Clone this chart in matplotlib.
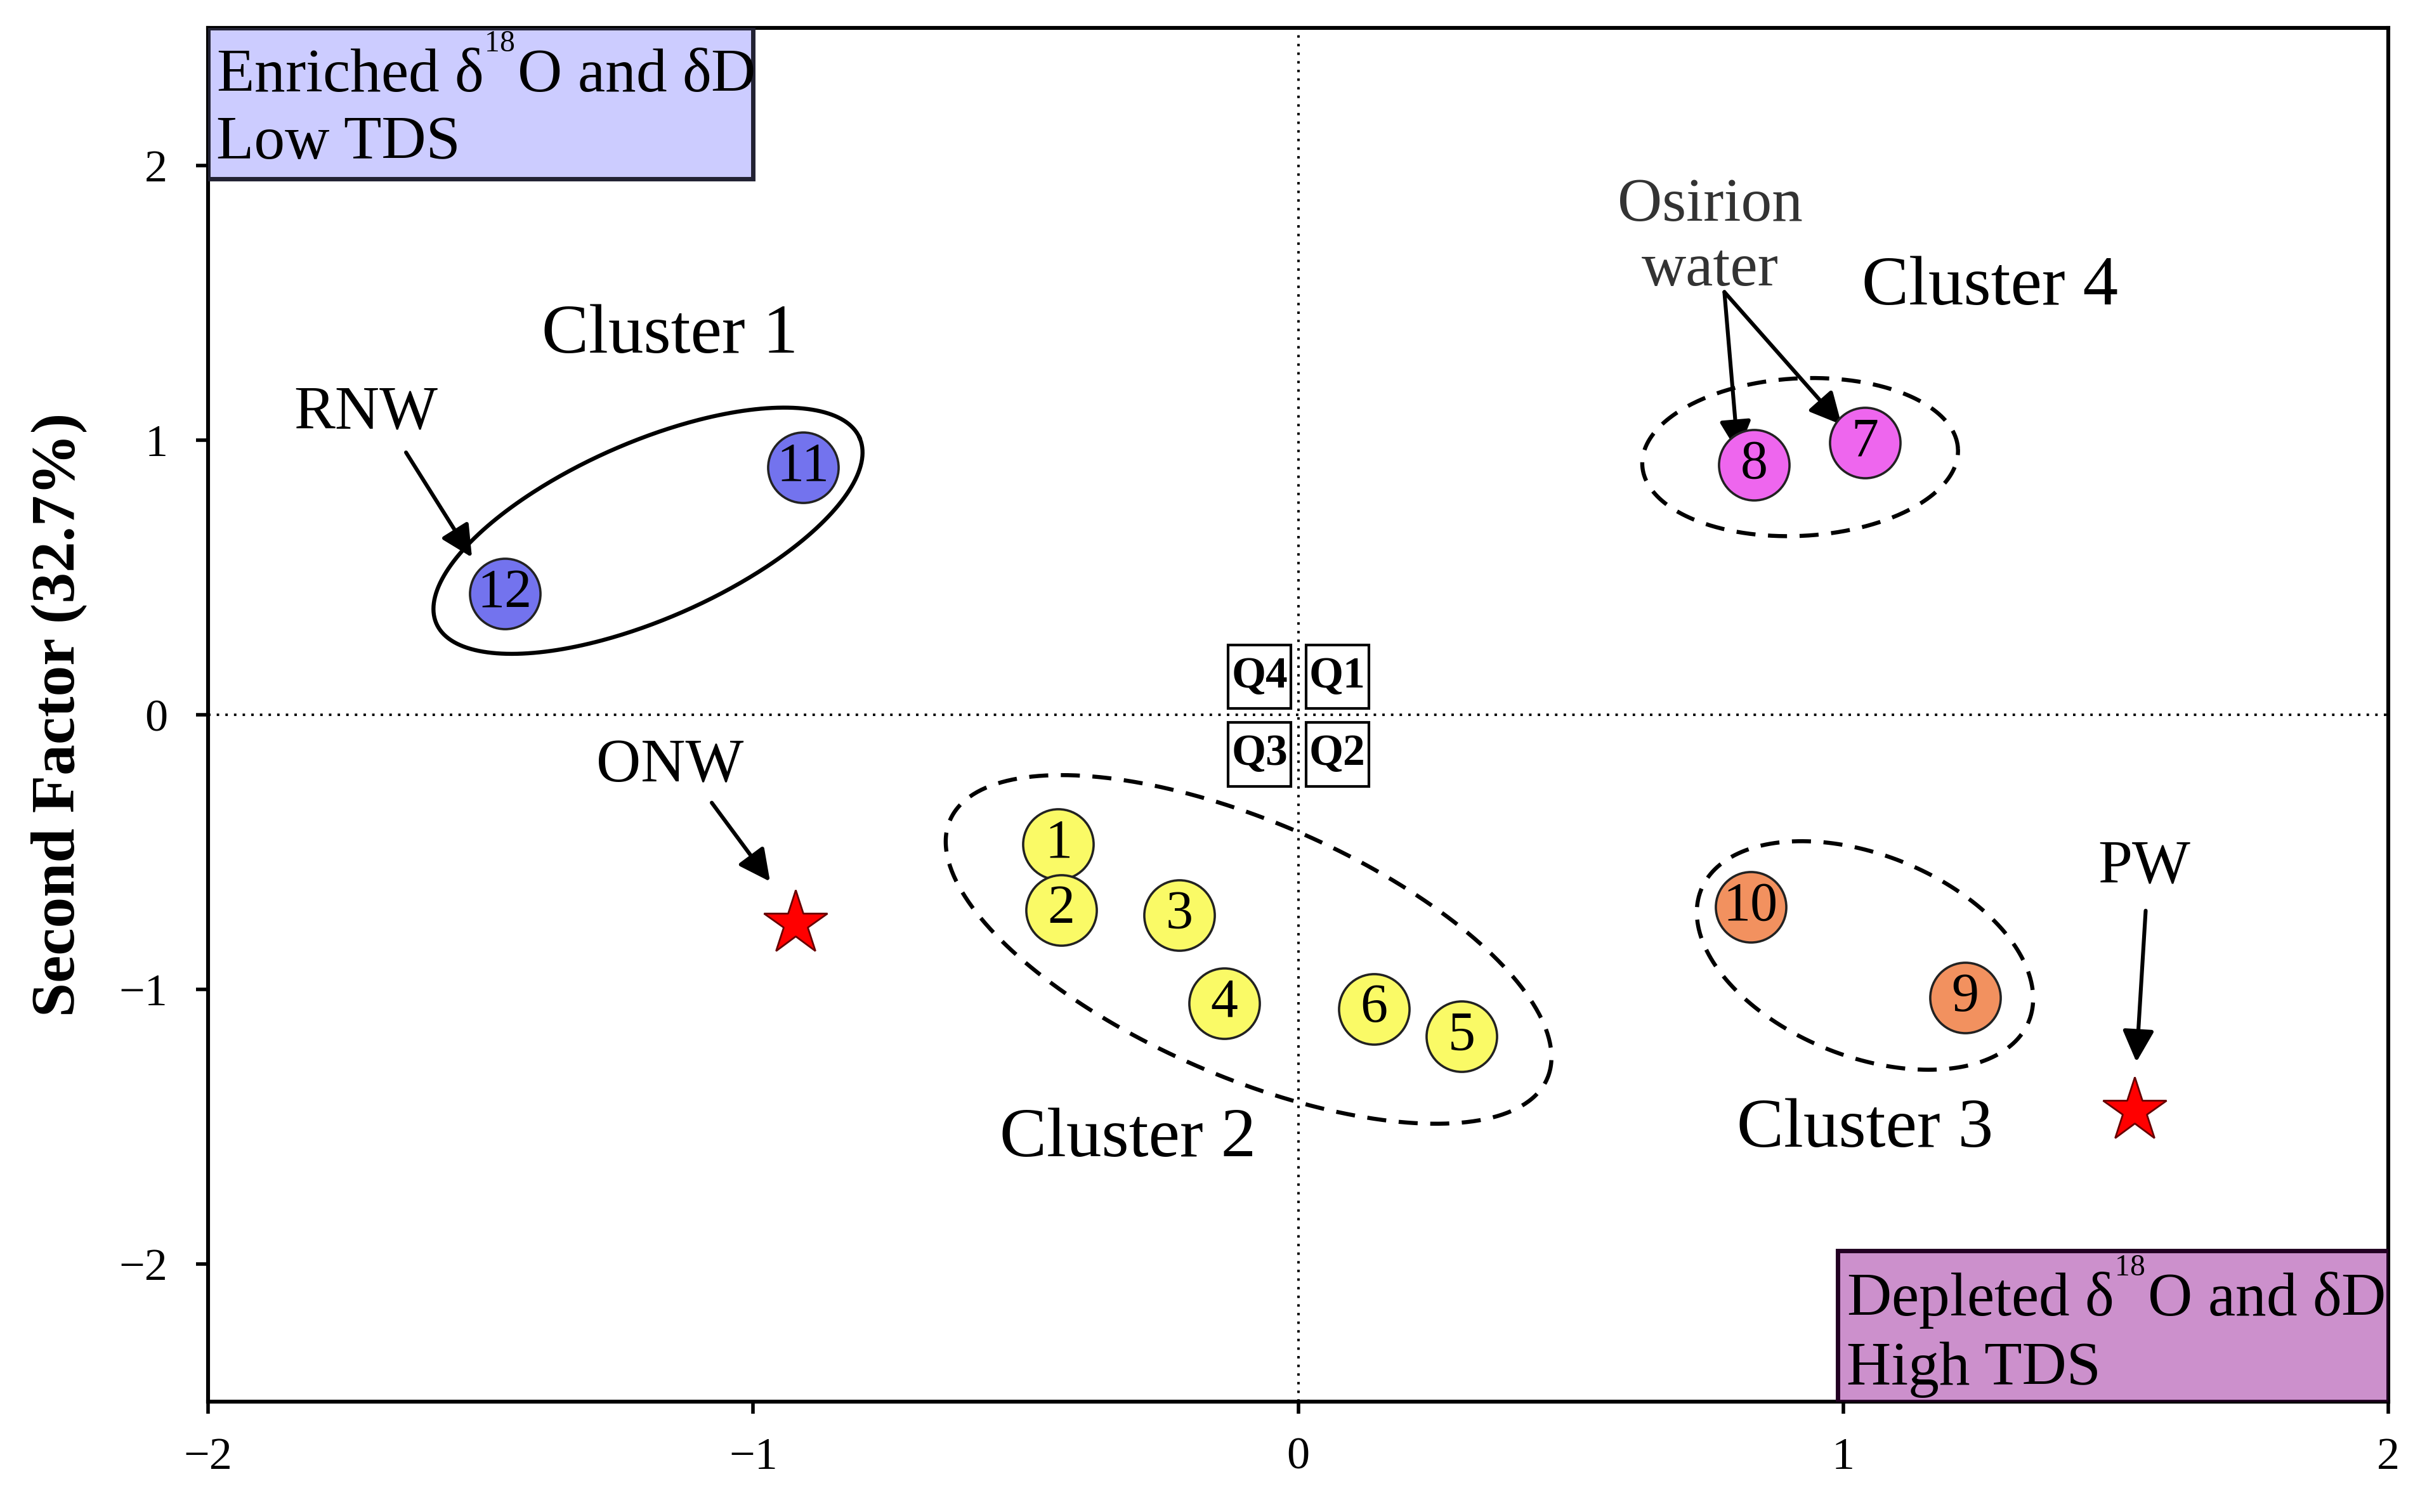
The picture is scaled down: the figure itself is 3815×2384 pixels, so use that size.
import numpy as np
import matplotlib
matplotlib.use("Agg")
import matplotlib.pyplot as plt
from matplotlib.patches import Rectangle

plt.rcParams['font.family'] = ['Liberation Serif', 'DejaVu Serif']
plt.rcParams['mathtext.fontset'] = 'custom'
plt.rcParams['mathtext.rm'] = 'Liberation Serif'

# sample scores (first factor, second factor)
sample_ids = ['1', '2', '3', '4', '5', '6', '7', '8', '9', '10', '11', '12']
sample_x = [-0.44, -0.435, -0.218, -0.136, 0.30, 0.139, 1.04, 0.836, 1.224, 0.83, -0.909, -1.456]
sample_y = [-0.47, -0.71, -0.73, -1.05, -1.17, -1.07, 0.99, 0.91, -1.03, -0.70, 0.90, 0.44]
sample_cluster = [2, 2, 2, 2, 2, 2, 4, 4, 3, 3, 1, 1]
cluster_colors = {1: '#7373EE', 2: '#FAFA66', 3: '#F2915F', 4: '#EE66EE'}

# end members
end_names = ['ONW', 'PW']
end_x = [-0.923, 1.535]
end_y = [-0.76, -1.44]

fig = plt.figure(figsize=(19.08, 11.92), dpi=200)
ax = fig.add_axes([0.086, 0.073, 0.9006, 0.9085])
ax.set_xlim(-2, 2)
ax.set_ylim(-2.5, 2.5)

# y distance per x distance so ellipses look right on screen
yx = (5 / (0.9085 * 2384)) / (4 / (0.9006 * 3816))


def ring(cx, cy, a, b, ang, ls):
    t = np.linspace(0, 2 * np.pi, 400)
    th = np.deg2rad(ang)
    dx = a * np.cos(t) * np.cos(th) - b * np.sin(t) * np.sin(th)
    dy = (a * np.cos(t) * np.sin(th) + b * np.sin(t) * np.cos(th)) * yx
    line, = ax.plot(cx + dx, cy + dy, color='black', lw=2.3, zorder=2)
    if ls == 'dashed':
        line.set_dashes((4.7, 3.1))


ax.axhline(0, color='black', lw=1.4, ls=(0, (1, 2.5)), zorder=1)
ax.axvline(0, color='black', lw=1.4, ls=(0, (1, 2.5)), zorder=1)

# cluster outlines
ring(-1.193, 0.67, 0.424, 0.162, 23.7, 'solid')
ring(-0.091, -0.854, 0.597, 0.234, -23.4, 'dashed')
ring(1.04, -0.876, 0.324, 0.185, -21.8, 'dashed')
ring(0.921, 0.938, 0.290, 0.1445, 3, 'dashed')

# quadrant boxes
for (x0, y0, lab) in [(-0.129, 0.023, 'Q4'), (0.014, 0.023, 'Q1'),
                      (-0.129, -0.26, 'Q3'), (0.014, -0.26, 'Q2')]:
    ax.add_patch(Rectangle((x0, y0), 0.116, 0.232, fc='white', ec='black', lw=1.5, zorder=3))
    ax.text(x0 + 0.058, y0 + 0.116, lab, fontsize=25, fontweight='bold',
            ha='center', va='center', zorder=4)

# corner boxes
ax.add_patch(Rectangle((-2, 1.95), 1.0, 0.55, fc='#CCCCFF', ec='#222233', lw=2.5, zorder=3))
ax.text(-1.985, 2.45, 'Enriched δ$^{^{18}}$O and δD\nLow TDS', fontsize=35, ha='left', va='top',
        linespacing=1.25, zorder=4)
ax.add_patch(Rectangle((0.99, -2.5), 1.01, 0.55, fc='#CC90CC', ec='#220022', lw=2.5, zorder=3))
ax.text(1.006, -1.965, 'Depleted δ$^{^{18}}$O and δD\nHigh TDS', fontsize=35, ha='left', va='top',
        linespacing=1.25, zorder=4)

# samples
for sid, x, y, c in zip(sample_ids, sample_x, sample_y, sample_cluster):
    ax.plot(x, y, 'o', ms=40, mfc=cluster_colors[c], mec='#222222', mew=1.3, zorder=5)
    ax.text(x, y, sid, fontsize=31, ha='center', va='center', zorder=6)

ax.plot(end_x, end_y, '*', ms=38, mfc='red', mec='#660000', mew=1.0, ls='none', zorder=5)

# labels
ax.text(-1.153, 1.38, 'Cluster 1', fontsize=40, ha='center', va='center')
ax.text(-0.312, -1.545, 'Cluster 2', fontsize=40, ha='center', va='center')
ax.text(1.04, -1.51, 'Cluster 3', fontsize=40, ha='center', va='center')
ax.text(1.269, 1.556, 'Cluster 4', fontsize=40, ha='center', va='center')

arr = dict(arrowstyle='-|>', color='black', lw=2.2, mutation_scale=38, shrinkA=0, shrinkB=0)
ax.text(-1.711, 1.095, 'RNW', fontsize=35, ha='center', va='center')
ax.annotate('', xy=(-1.516, 0.573), xytext=(-1.637, 0.955), arrowprops=arr)
ax.text(-1.153, -0.19, 'ONW', fontsize=35, ha='center', va='center')
ax.annotate('', xy=(-0.969, -0.607), xytext=(-1.076, -0.32), arrowprops=arr)
ax.text(1.552, -0.556, 'PW', fontsize=35, ha='center', va='center')
ax.annotate('', xy=(1.538, -1.264), xytext=(1.555, -0.713), arrowprops=arr)
ax.text(0.756, 1.735, 'Osirion\nwater', fontsize=35, ha='center', va='center',
        color='#333333', linespacing=1.2)
ax.annotate('', xy=(0.807, 0.955), xytext=(0.782, 1.539), arrowprops=arr)
ax.annotate('', xy=(0.997, 1.056), xytext=(0.782, 1.539), arrowprops=arr)

ax.set_xticks([-2, -1, 0, 1, 2])
ax.set_yticks([-2, -1, 0, 1, 2])
ax.tick_params(axis='both', direction='out', length=7, width=2, labelsize=26)
ax.tick_params(axis='y', pad=16)
ax.tick_params(axis='x', pad=13)
for s in ax.spines.values():
    s.set_linewidth(2.2)
ax.set_ylabel('Second Factor (32.7%)', fontsize=35, fontweight='bold', labelpad=18)

fig.savefig('out.png', dpi=200)
